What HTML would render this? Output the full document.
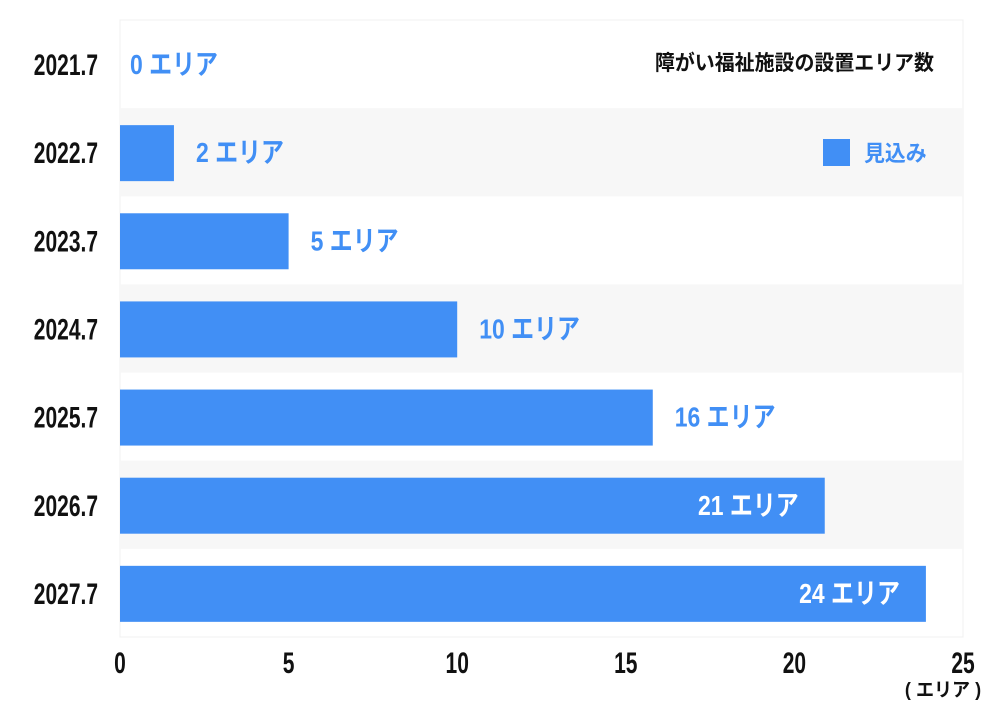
<!DOCTYPE html>
<html><head><meta charset="utf-8"><style>
body{margin:0;background:#fff;}
svg{display:block;font-family:"Liberation Sans","Noto Sans CJK JP",sans-serif;font-weight:bold;}
</style></head><body>
<svg id="chart" width="1000" height="715" viewBox="0 0 1000 715"></svg>
<script>
const categories=["2021.7","2022.7","2023.7","2024.7","2025.7","2026.7","2027.7"];
const values=[0,1.6,5,10,15.8,20.9,23.9];
const valueLabels=["0","2","5","10","16","21","24"];
const ticks=[0,5,10,15,20,25];
const NS="http://www.w3.org/2000/svg";
const svg=document.getElementById("chart");
const X0=120,X1=963,Y0=20,ROW=88.14;
const x=v=>X0+(X1-X0)*v/25;
const rowY=i=>Y0+i*ROW;
function el(t,a){const e=document.createElementNS(NS,t);for(const k in a)e.setAttribute(k,a[k]);svg.appendChild(e);return e;}
function txt(s,px,py,size,fill,anchor,sx){
 const e=el("text",{transform:`translate(${px},${py}) scale(${sx},1)`,"font-size":size,fill:fill,"text-anchor":anchor});
 e.textContent=s;return e;}
const bg=el("rect",{x:X0,y:Y0,width:X1-X0,height:ROW*7,fill:"#fff",stroke:"#f0f0f0"});


categories.forEach((c,i)=>{
 if(i%2===1){const r=el("rect",{x:X0,y:rowY(i),width:X1-X0,height:ROW,fill:"#f7f7f7"});
 
 }
 const cy=rowY(i)+ROW/2;
 const yl=txt(c,98,cy+11,30,"#111","end",0.7);
 
 
 const w=x(values[i])-X0;
 if(w>0){const b=el("rect",{x:X0,y:rowY(i)+17,width:w,height:56,fill:"#418ff5"});
 
 }
 const s=valueLabels[i]+" エリア";
 let lab;
 if(values[i]>18){lab=txt(s,x(values[i])-26,cy+10,28,"#fff","end",0.82);}
 else{lab=txt(s,x(values[i])+(values[i]>0?22:10),cy+10,28,"#418ff5","start",0.82);}
 
 
});
ticks.forEach(t=>{
 const tl=txt(String(t),x(t),673,30,"#111","middle",0.7);
 
 
});
const u=txt("( エリア )",943,696,19,"#111","middle",0.95);


const t=txt("障がい福祉施設の設置エリア数",934,70,21,"#111","end",0.95);


const ls=el("rect",{x:823,y:139,width:27,height:27,fill:"#418ff5"});


const lt=txt("見込み",864,161,22,"#418ff5","start",0.95);


</script>
</body></html>
